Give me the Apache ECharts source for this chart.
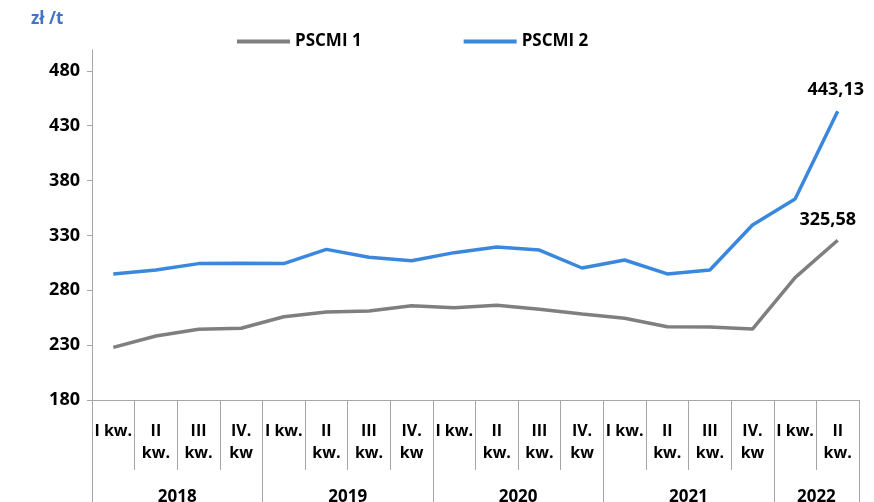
<!DOCTYPE html>
<html>
<head>
<meta charset="utf-8">
<script src="https://cdn.jsdelivr.net/npm/echarts@6/dist/echarts.min.js"></script>
<style>
  html, body { margin: 0; padding: 0; background: #fff; }
  #chart { width: 874px; height: 502px; }
</style>
</head>
<body>
<div id="chart"></div>
<script>
const quarterLabels = [
  'I kw.', 'II\nkw.', 'III\nkw.', 'IV.\nkw',
  'I kw.', 'II\nkw.', 'III\nkw.', 'IV.\nkw',
  'I kw.', 'II\nkw.', 'III\nkw.', 'IV.\nkw',
  'I kw.', 'II\nkw.', 'III\nkw.', 'IV.\nkw',
  'I kw.', 'II\nkw.'
]
const years = ['2018', '2019', '2020', '2021', '2022']
const quartersPerYear = [4, 4, 4, 4, 2]

const pscmi1 = [228, 238.3, 244.4, 245.4, 255.9, 260.2, 261.1, 266, 264.1, 266.3, 262.7, 258.4, 254.5, 246.8, 246.5, 244.7, 291.5, 325.58]
const pscmi2 = [294.9, 298.5, 304.3, 304.6, 304.3, 317.3, 310.1, 307, 314.3, 319.5, 316.7, 300.3, 307.6, 294.9, 298.5, 339.5, 363.2, 443.13]

const yTicks = [180, 230, 280, 330, 380, 430, 480]

// year group boundaries and centres on a 0..n scale
const yearBounds = [0]
const yearCenters = []
quartersPerYear.forEach((q, i) => {
  const start = yearBounds[i]
  yearBounds.push(start + q)
  yearCenters.push(start + q / 2)
})
const total = yearBounds[yearBounds.length - 1]
const quarterBounds = []
for (let i = 0; i <= total; i++) quarterBounds.push(i)

const fontFam = '"Open Sans", "Noto Sans", sans-serif'
const axisGray = '#a6a6a6'
const grayLine = '#7f7f7f'
const blueLine = '#3a88dd'

const chart = echarts.init(document.getElementById('chart'))

// only the last point gets a value label
const lastOnly = (arr) => arr.map((v, i) => i === arr.length - 1
  ? { value: v, symbol: 'circle', symbolSize: 0.1, label: { show: true } }
  : v)

const labelStyle = {
  formatter: (p) => String(p.value).replace('.', ','),
  fontFamily: fontFam,
  fontWeight: 'bold',
  fontSize: 18,
  color: '#000'
}

chart.setOption({
  animation: false,
  title: {
    text: 'zł /t',
    left: 26,
    top: 6,
    textStyle: { color: '#4472c4', fontSize: 17, fontWeight: 'bold', fontFamily: fontFam }
  },
  legend: {
    left: 232,
    top: 28,
    itemWidth: 53,
    itemHeight: 4,
    itemGap: 102,
    textStyle: { fontSize: 17, fontWeight: 'bold', color: '#000', fontFamily: fontFam },
    data: [
      { name: 'PSCMI 1', icon: 'rect', itemStyle: { color: grayLine, opacity: 1 } },
      { name: 'PSCMI 2', icon: 'rect', itemStyle: { color: blueLine, opacity: 1 } }
    ]
  },
  grid: { left: 92, right: 15, top: 50, bottom: 102, outerBoundsMode: 'none' },
  xAxis: [{
    type: 'category',
    data: quarterLabels,
    boundaryGap: true,
    axisLine: { lineStyle: { color: axisGray, width: 1 } },
    axisTick: { show: false },
    axisLabel: {
      interval: 0,
      margin: 20,
      fontFamily: fontFam,
      fontWeight: 'bold',
      fontSize: 16,
      color: '#000',
      lineHeight: 22
    }
  }, {
    // quarter separators
    type: 'value',
    position: 'bottom',
    min: 0,
    max: total,
    splitLine: { show: false },
    axisLine: { show: false },
    axisTick: { show: true, customValues: quarterBounds, length: 70, lineStyle: { color: axisGray } },
    axisLabel: { show: false }
  }, {
    // year separators and labels
    type: 'value',
    position: 'bottom',
    min: 0,
    max: total,
    splitLine: { show: false },
    axisLine: { show: false },
    axisTick: { show: true, customValues: yearBounds, length: 110, lineStyle: { color: axisGray } },
    axisLabel: {
      customValues: yearCenters,
      formatter: (v) => years[yearCenters.indexOf(v)] || '',
      margin: 89,
      fontFamily: fontFam,
      fontWeight: 'bold',
      fontSize: 17,
      color: '#000'
    }
  }],
  yAxis: {
    type: 'value',
    min: 180,
    max: 499,
    splitLine: { show: false },
    axisLine: { show: true, lineStyle: { color: axisGray } },
    axisTick: { show: true, customValues: yTicks, length: 5, lineStyle: { color: axisGray } },
    axisLabel: {
      customValues: yTicks,
      margin: 12,
      fontFamily: fontFam,
      fontWeight: 'bold',
      fontSize: 18,
      color: '#000'
    }
  },
  series: [{
    name: 'PSCMI 1',
    type: 'line',
    data: lastOnly(pscmi1),
    symbol: 'none',
    lineStyle: { color: grayLine, width: 3.5 },
    itemStyle: { color: grayLine },
    label: Object.assign({ show: false, position: 'top', offset: [-10, -6] }, labelStyle)
  }, {
    name: 'PSCMI 2',
    type: 'line',
    data: lastOnly(pscmi2),
    symbol: 'none',
    lineStyle: { color: blueLine, width: 3.5 },
    itemStyle: { color: blueLine },
    label: Object.assign({ show: false, position: 'top', offset: [-2, 0], distance: 12 }, labelStyle)
  }]
})
</script>
</body>
</html>
